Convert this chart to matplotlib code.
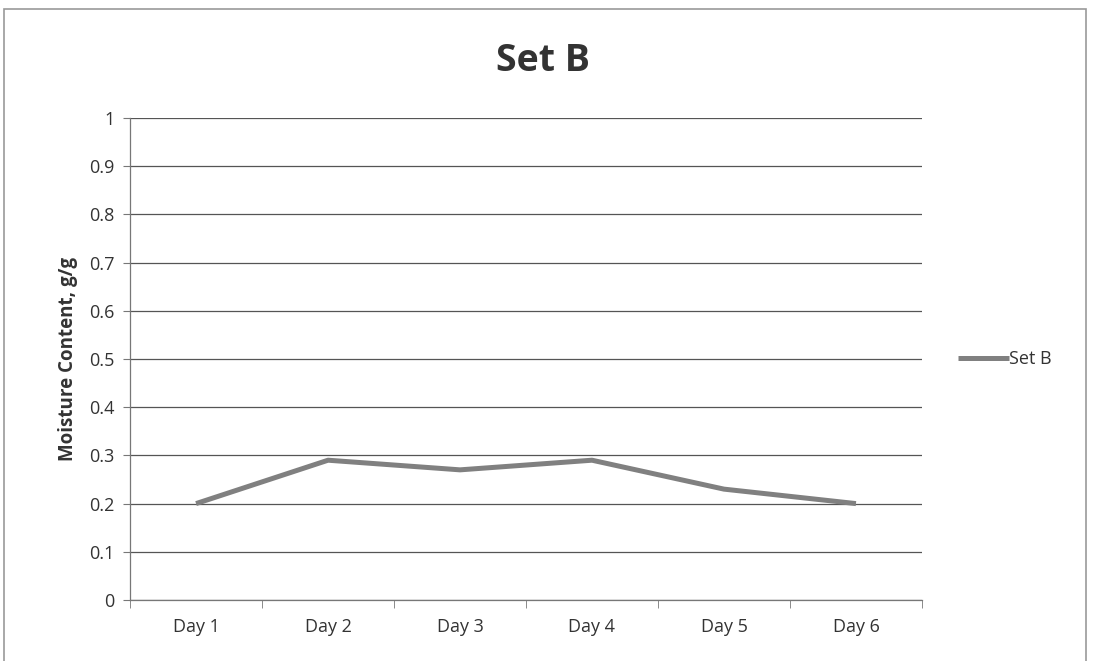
import matplotlib.pyplot as plt
from matplotlib.patches import Rectangle
import numpy as np

plt.rcParams['font.family'] = ['Open Sans', 'DejaVu Sans']

days = ['Day 1', 'Day 2', 'Day 3', 'Day 4', 'Day 5', 'Day 6']
set_b = [0.20, 0.29, 0.27, 0.29, 0.23, 0.20]
y_ticks = [0, 0.1, 0.2, 0.3, 0.4, 0.5, 0.6, 0.7, 0.8, 0.9, 1]
y_labels = ['0', '0.1', '0.2', '0.3', '0.4', '0.5', '0.6', '0.7', '0.8', '0.9', '1']

fig = plt.figure(figsize=(10.93, 6.61), dpi=100)
ax = fig.add_axes([0.119, 0.0923, 0.7245, 0.7292])

x = np.arange(len(days))
ax.plot(x, set_b, color='#808080', lw=3.6, label='Set B', solid_capstyle='butt')

ax.set_xlim(-0.5, len(days) - 0.5)
ax.set_ylim(0, 1)
ax.set_yticks(y_ticks)
ax.set_yticklabels(y_labels, fontsize=13, color='#333333')
ax.yaxis.grid(True, color='#555555', lw=0.9)
ax.set_axisbelow(True)

# category labels sit between boundary tick marks
ax.set_xticks(x)
ax.set_xticklabels(days, fontsize=13, color='#333333')
ax.tick_params(axis='x', length=0, pad=13)
ax.set_xticks(np.arange(-0.5, len(days)), minor=True)
ax.tick_params(axis='x', which='minor', length=6, color='#777777', direction='out')
ax.tick_params(axis='y', length=5, color='#777777', direction='out', pad=6)

for side in ['top', 'right']:
    ax.spines[side].set_visible(False)
for side in ['left', 'bottom']:
    ax.spines[side].set_color('#777777')
    ax.spines[side].set_linewidth(0.9)

ax.set_ylabel('Moisture Content, g/g', fontsize=13.5, fontweight='bold', color='#333333', labelpad=8)
fig.text(0.497, 0.908, 'Set B', ha='center', va='center', fontsize=27, fontweight='bold', color='#333333')

ax.legend(loc='center left', bbox_to_anchor=(1.025, 0.5), frameon=False, fontsize=13,
          handlelength=2.8, handletextpad=0.0, labelcolor='#333333')

fig.patches.append(Rectangle((0.004, -0.01), 0.99, 0.997, transform=fig.transFigure,
                             fill=False, edgecolor='#999999', lw=1.2))

fig.savefig('out.png', dpi=100, facecolor='white')
